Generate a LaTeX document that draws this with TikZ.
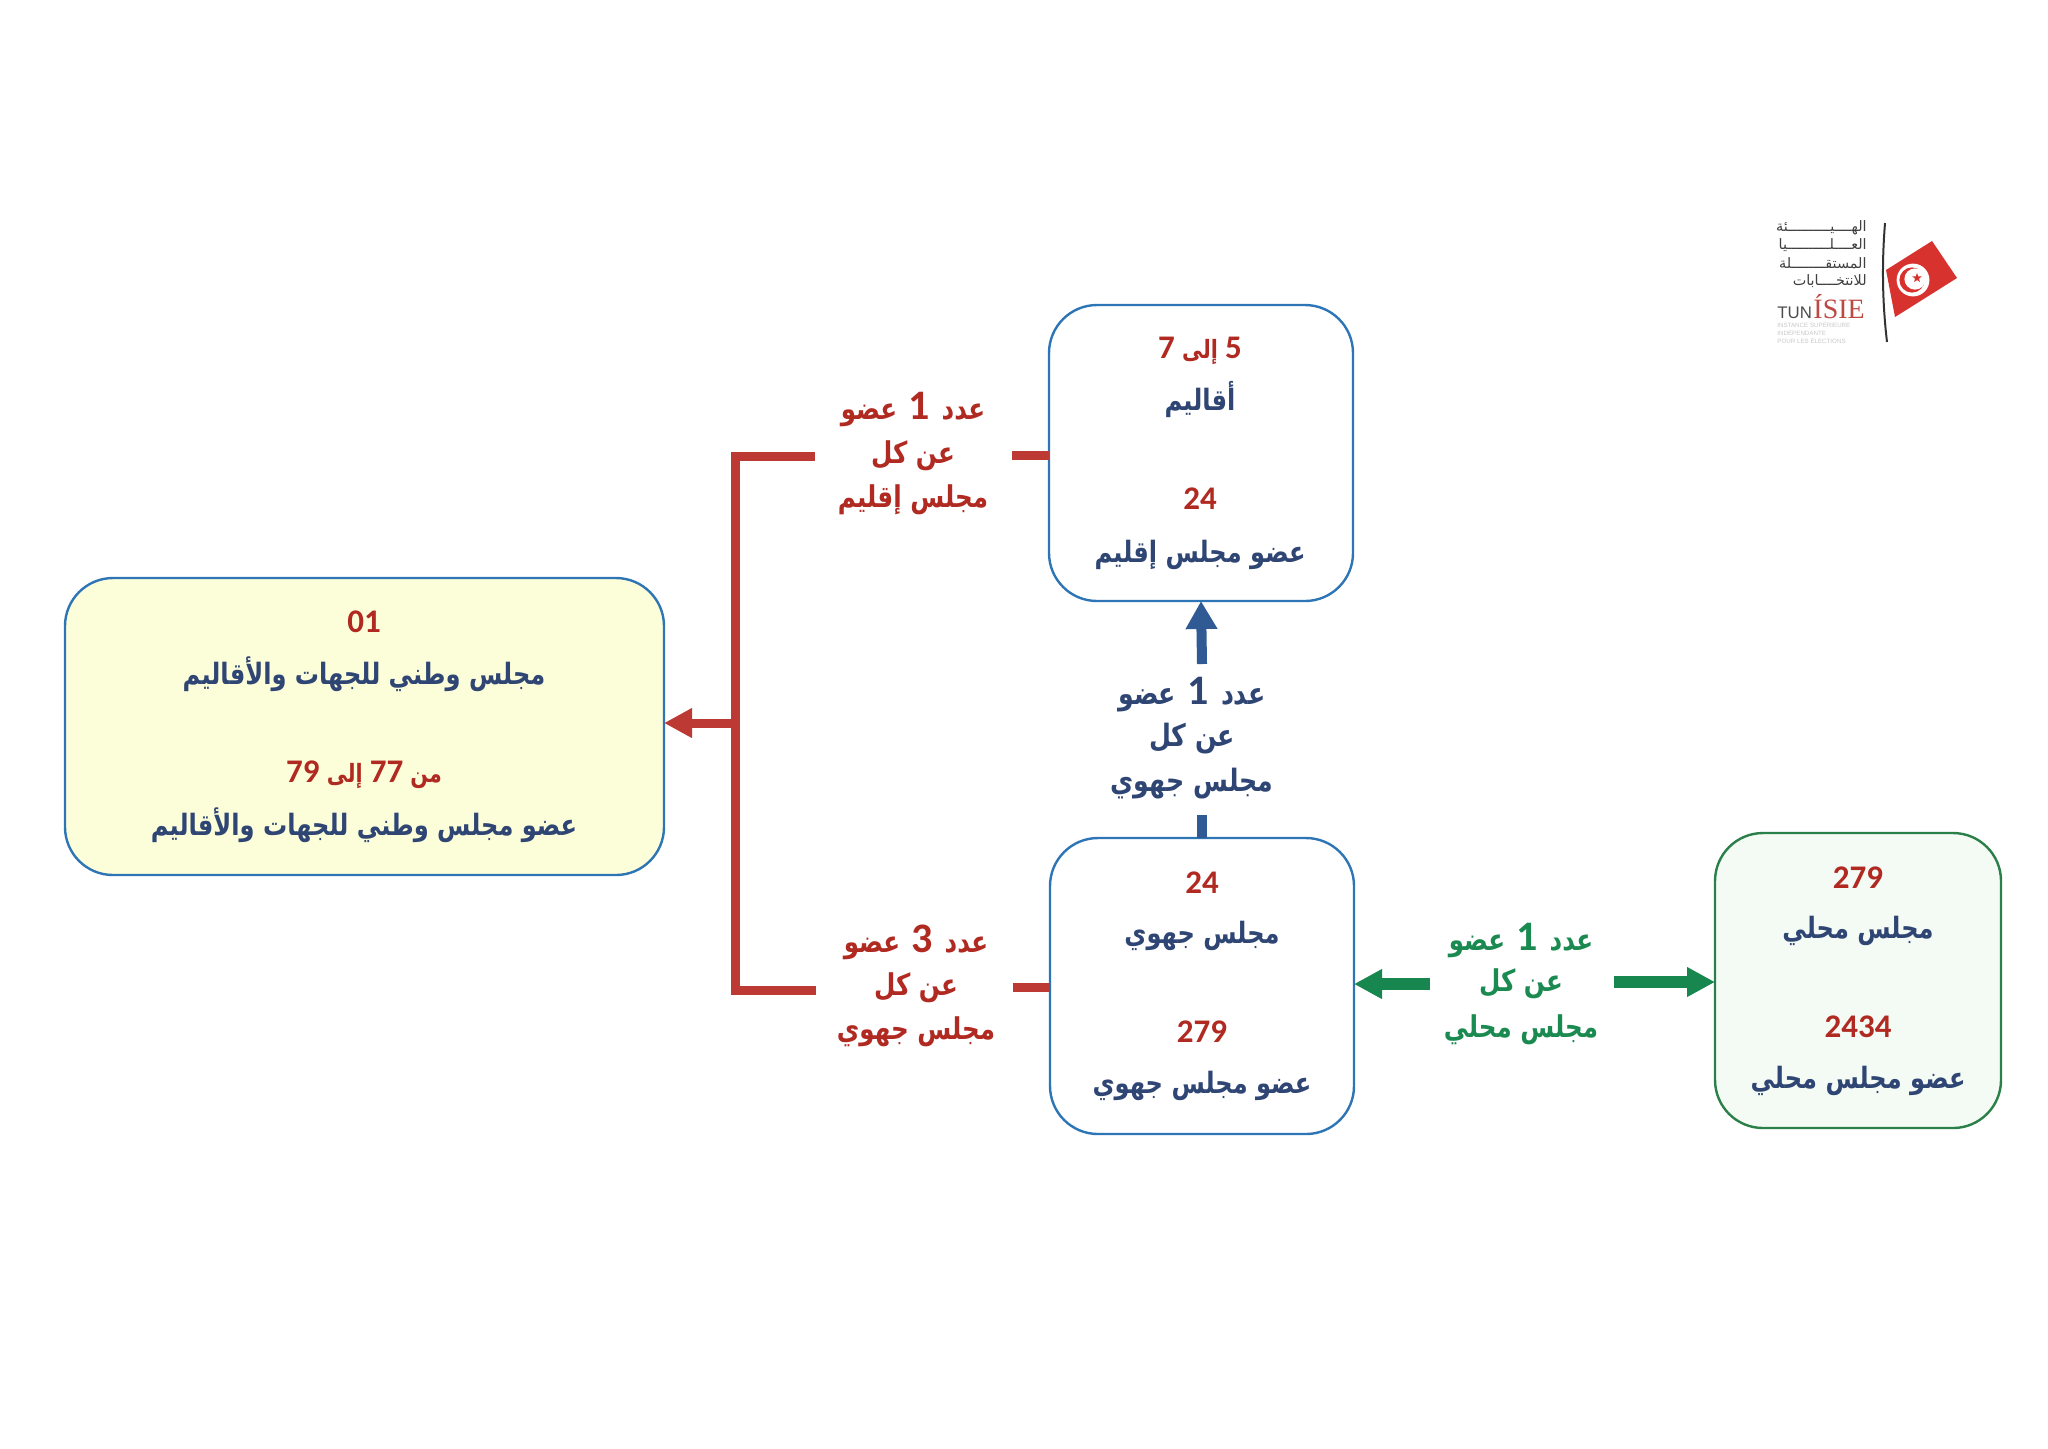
\documentclass[tikz,border=0pt]{standalone}
\usepackage{fontspec}
\usepackage{graphicx}
\usetikzlibrary{arrows.meta,shapes.geometric}
\TeXXeTstate=1
\newfontfamily\arabfont[Script=Arabic,FakeStretch=0.82]{DejaVu Sans Bold}
\newfontfamily\arablogo[Script=Arabic]{DejaVu Sans}
\newfontfamily\numf{Carlito Bold}
\newfontfamily\logosans{Liberation Sans}
\newfontfamily\logoserif{Liberation Serif}
\newcommand{\artxt}[1]{{\arabfont\beginR #1\endR}}
\newcommand{\nn}[1]{\beginL{\numf\fontsize{16.5pt}{16.5pt}\selectfont #1}\endL{}}
\newcommand{\nb}[1]{\hspace{1.5pt}\beginL{\numf\fontsize{21pt}{21pt}\selectfont #1}\endL{}\hspace{1.5pt}}
\definecolor{boxblue}{HTML}{2E75B6}
\definecolor{boxgreen}{HTML}{2A8048}
\definecolor{fillyellow}{HTML}{FCFDD9}
\definecolor{fillgreen}{HTML}{F4FBF5}
\definecolor{txtred}{HTML}{B02A22}
\definecolor{txtnavy}{HTML}{2F4674}
\definecolor{txtgreen}{HTML}{1B8A50}
\definecolor{linered}{HTML}{BD3A34}
\definecolor{lineblue}{HTML}{2F5A94}
\definecolor{linegreen}{HTML}{17864F}
\definecolor{flagred}{HTML}{D8322E}
\tikzset{
  cbox/.style={draw=boxblue,line width=1.2pt,rounded corners=24pt,inner sep=0pt,outer sep=0pt},
  redtx/.style={text=txtred,inner sep=0pt,font=\fontsize{12.6pt}{12.6pt}\selectfont},
  navytx/.style={text=txtnavy,inner sep=0pt,font=\fontsize{14.7pt}{14.7pt}\selectfont},
  bluelab/.style={text=txtnavy,inner sep=0pt,font=\fontsize{15.4pt}{15.4pt}\selectfont},
  redlab/.style={text=txtred,inner sep=0pt,font=\fontsize{15pt}{15pt}\selectfont},
  greenlab/.style={text=txtgreen,inner sep=0pt,font=\fontsize{15pt}{15pt}\selectfont},
  redln/.style={draw=linered,line width=4.5pt},
  redarr/.style={draw=linered,line width=4.5pt,-{Triangle[length=14pt,width=14pt]}},
  bluearr/.style={draw=lineblue,line width=5pt,-{Triangle[length=14pt,width=15pt]}},
  blueln/.style={draw=lineblue,line width=5pt},
  greenarr/.style={draw=linegreen,line width=6pt,-{Triangle[length=14pt,width=14pt]}},
  logotx/.style={text=black!75,inner sep=0pt,anchor=east,font=\arablogo\fontsize{7.2pt}{7.2pt}\selectfont},
  microtx/.style={text=black!22,inner sep=0pt,anchor=west,font=\logosans\fontsize{3.1pt}{3.1pt}\selectfont},
}
\begin{document}
\begin{tikzpicture}[x=0.5pt,y=-0.5pt]
\useasboundingbox (0,0) rectangle (2048,1448);
% boxes
\node[cbox,fill=fillyellow,minimum width=299.5pt,minimum height=148.5pt] (national) at (364.5,726.5) {};
\node[cbox,fill=white,minimum width=152pt,minimum height=148pt] (iqlim) at (1201,453) {};
\node[cbox,fill=white,minimum width=152pt,minimum height=148pt] (region) at (1202,986) {};
\node[cbox,draw=boxgreen,fill=fillgreen,minimum width=143pt,minimum height=147.5pt] (local) at (1858,980.5) {};
% national text
\node[redtx] (n1) at (364,622) {\nn{01}};
\node[navytx] (n2) at (364,674) {\artxt{مجلس وطني للجهات والأقاليم}};
\node[redtx] (n3) at (364,775) {\artxt{من \nn{77} إلى \nn{79}}};
\node[navytx] (n4) at (364,825) {\artxt{عضو مجلس وطني للجهات والأقاليم}};
% iqlim text
\node[redtx] (q1) at (1200,351) {\artxt{\nn{5} إلى \nn{7}}};
\node[navytx] (q2) at (1200,399) {\artxt{أقاليم}};
\node[redtx] (q3) at (1200,499) {\nn{24}};
\node[navytx] (q4) at (1200,555) {\artxt{عضو مجلس إقليم}};
% region text
\node[redtx] (r1) at (1202,883) {\nn{24}};
\node[navytx] (r2) at (1202,936) {\artxt{مجلس جهوي}};
\node[redtx] (r3) at (1202,1032) {\nn{279}};
\node[navytx] (r4) at (1202,1086) {\artxt{عضو مجلس جهوي}};
% local text
\node[redtx] (l1) at (1858,878) {\nn{279}};
\node[navytx] (l2) at (1858,931) {\artxt{مجلس محلي}};
\node[redtx] (l3) at (1858,1027) {\nn{2434}};
\node[navytx] (l4) at (1858,1081) {\artxt{عضو مجلس محلي}};
% connector labels
\node[redlab] (a1) at (913,410) {\artxt{عدد \nb{1} عضو}};
\node[redlab] (a2) at (913,456) {\artxt{عن كل}};
\node[redlab] (a3) at (913,500) {\artxt{مجلس إقليم}};
\node[redlab] (b1) at (916,942) {\artxt{عدد \nb{3} عضو}};
\node[redlab] (b2) at (916,988) {\artxt{عن كل}};
\node[redlab] (b3) at (916,1032) {\artxt{مجلس جهوي}};
\node[bluelab] (c1) at (1192,695) {\artxt{عدد \nb{1} عضو}};
\node[bluelab] (c2) at (1192,739) {\artxt{عن كل}};
\node[bluelab] (c3) at (1192,784) {\artxt{مجلس جهوي}};
\node[greenlab] (d1) at (1521,940) {\artxt{عدد \nb{1} عضو}};
\node[greenlab] (d2) at (1521,984) {\artxt{عن كل}};
\node[greenlab] (d3) at (1521,1030) {\artxt{مجلس محلي}};
% free ends of connectors
\coordinate (topL) at (815,456);
\coordinate (topR) at (1012,455);
\coordinate (corT) at (735,456);
\coordinate (corB) at (735,990);
\coordinate (botL) at (816,990);
\coordinate (botR) at (1013,987);
\coordinate (junc) at (735,723);
\coordinate (upA) at (1202,664);
\coordinate (upB) at (1202,815);
\coordinate (grL) at (1430,984);
\coordinate (grR) at (1614,982);
% connectors
\draw[redln] (iqlim.west |- topR) -- (topR);
\draw[redln] (region.west |- botR) -- (botR);
\draw[redln,line join=miter] (topL) -- (corT) -- (corB) -- (botL);
\draw[redarr] (junc) -- (national.east |- junc);
\draw[blueln] (region.north) -- (upB);
\draw[bluearr] (upA) -- (iqlim.south);
\draw[greenarr] (grL) -- (region.east |- grL);
\draw[greenarr] (grR) -- (local.west |- grR);
% logo
\fill[flagred] (1932,241) -- (1957,278) -- (1895,317) -- (1886,270) -- cycle;
\fill[white] (1913,280) circle[radius=8.2pt];
\fill[flagred] (1912,280) circle[radius=6.3pt];
\fill[white] (1915,279) circle[radius=5.3pt];
\node[star,star points=5,star point ratio=2.4,fill=flagred,inner sep=0pt,minimum size=5pt] (flagstar) at (1917,278) {};
\draw[black!80,line width=1pt] (1885,223) .. controls (1882,260) and (1882,300) .. (1887,342);
\node[logotx] (lg1) at (1867,228) {\beginR الهــــيــــــــــئة\endR};
\node[logotx] (lg2) at (1867,245) {\beginR العــــلــــــــــيا\endR};
\node[logotx] (lg3) at (1867,263) {\beginR المستقــــــــلة\endR};
\node[logotx] (lg4) at (1867,281) {\beginR للانتخــــابات\endR};
\node[text=black!70,inner sep=0pt,anchor=base west,font=\logosans\fontsize{8.4pt}{8.4pt}\selectfont] (lg5) at (1777,318) {TUN};
\node[text=txtred!85,inner sep=0pt,anchor=base west,font=\logoserif\fontsize{14pt}{14pt}\selectfont] (lg6) at (1813,318) {ÍSIE};
\node[microtx] (lg7) at (1777,325) {INSTANCE SUPÉRIEURE};
\node[microtx] (lg8) at (1777,333) {INDÉPENDANTE};
\node[microtx] (lg9) at (1777,341) {POUR LES ÉLECTIONS};
\end{tikzpicture}
\end{document}
